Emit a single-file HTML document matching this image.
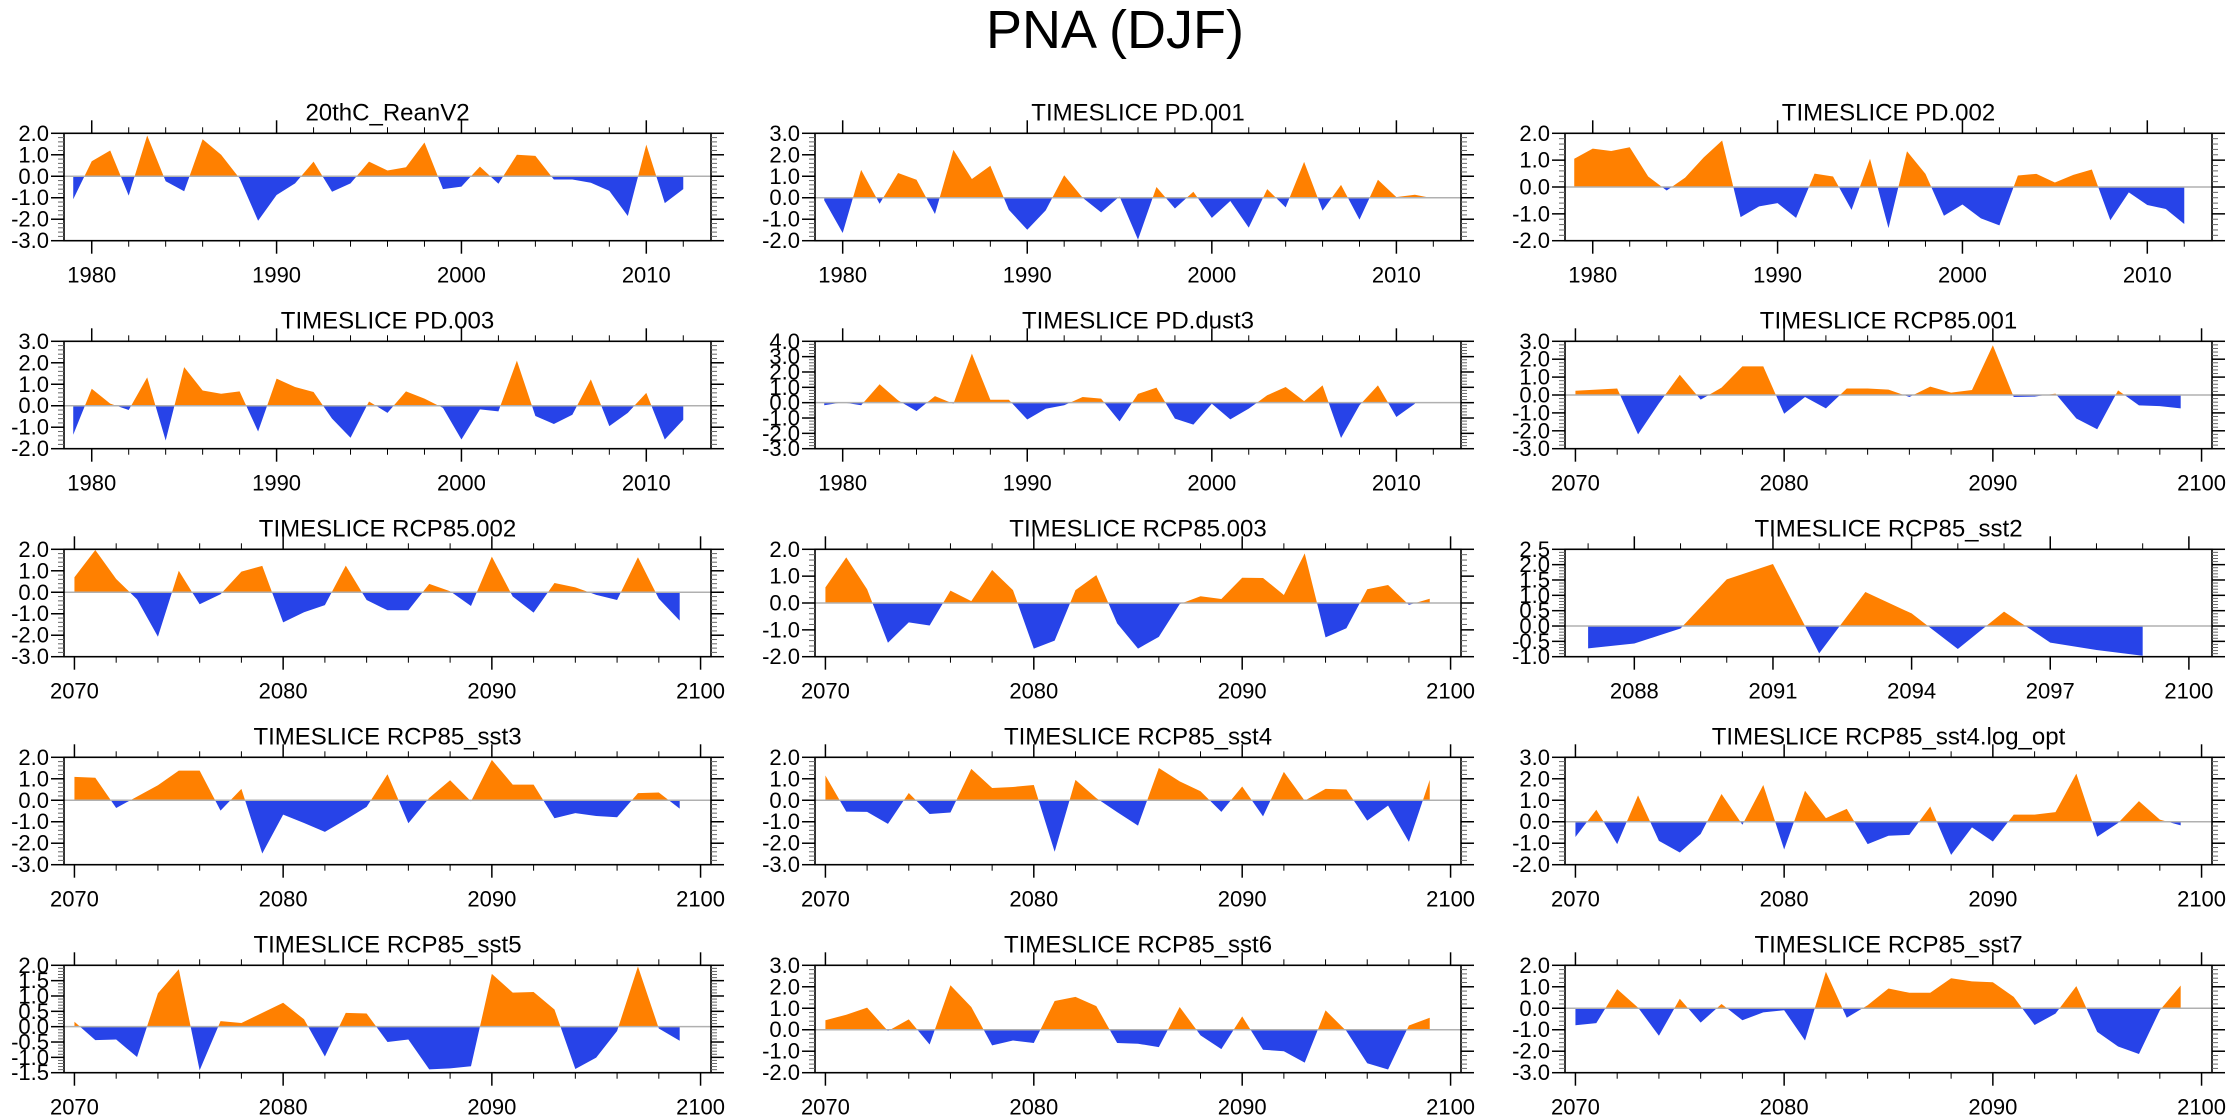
<!DOCTYPE html>
<html>
<head>
<meta charset="utf-8">
<style>
  html,body{margin:0;padding:0;background:#fff;}
  svg{display:block;font-family:"Liberation Sans",Arial,sans-serif;}
</style>
</head>
<body>
<svg id="chart" width="2230" height="1120" viewBox="0 0 2230 1120" xmlns="http://www.w3.org/2000/svg">
  <rect x="0" y="0" width="2230" height="1120" fill="#fff"/>
  <text x="1115" y="48" text-anchor="middle" font-size="54" fill="#000">PNA (DJF)</text>
</svg>
<script>
// ---- data ----
const reanV2 = [-1.07,0.7,1.2,-0.9,1.9,-0.23,-0.7,1.72,1.0,-0.1,-2.07,-0.87,-0.33,0.68,-0.72,-0.33,0.68,0.27,0.42,1.57,-0.6,-0.48,0.45,-0.35,1.0,0.95,-0.15,-0.15,-0.3,-0.68,-1.85,1.47,-1.25,-0.6];
const pd001 = [-0.12,-1.64,1.3,-0.28,1.15,0.84,-0.76,2.23,0.87,1.49,-0.56,-1.49,-0.59,1.05,0.0,-0.68,0.06,-1.95,0.5,-0.5,0.28,-0.94,-0.15,-1.39,0.4,-0.45,1.67,-0.6,0.6,-1.02,0.84,0.03,0.14,-0.03];
const pd002 = [1.05,1.43,1.34,1.48,0.39,-0.13,0.35,1.1,1.73,-1.12,-0.72,-0.6,-1.15,0.5,0.39,-0.85,1.05,-1.53,1.33,0.49,-1.07,-0.65,-1.17,-1.43,0.43,0.49,0.17,0.45,0.65,-1.24,-0.2,-0.67,-0.82,-1.38];
const pd003 = [-1.35,0.79,0.1,-0.2,1.32,-1.62,1.8,0.71,0.56,0.67,-1.2,1.26,0.87,0.64,-0.6,-1.49,0.2,-0.33,0.67,0.33,-0.1,-1.57,-0.17,-0.26,2.1,-0.48,-0.85,-0.42,1.23,-0.95,-0.33,0.6,-1.57,-0.65];
const pdDust3 = [-0.17,0.02,-0.17,1.2,0.15,-0.55,0.43,-0.07,3.2,0.19,0.19,-1.1,-0.4,-0.17,0.37,0.26,-1.22,0.57,0.98,-1.04,-1.43,-0.07,-1.09,-0.39,0.48,1.02,0.1,1.13,-2.3,-0.17,1.13,-0.93,-0.07];
const rcp001 = [0.24,0.3,0.36,-2.2,-0.47,1.13,-0.26,0.41,1.6,1.6,-1.05,-0.11,-0.75,0.36,0.36,0.3,-0.11,0.47,0.13,0.28,2.78,-0.11,-0.09,0.08,-1.31,-1.91,0.26,-0.58,-0.62,-0.75];
const rcp002 = [0.7,1.97,0.62,-0.33,-2.07,1.0,-0.56,-0.09,0.96,1.23,-1.4,-0.93,-0.6,1.24,-0.36,-0.84,-0.84,0.39,0.05,-0.64,1.66,-0.2,-0.95,0.43,0.23,-0.12,-0.36,1.63,-0.3,-1.32];
const rcp003 = [0.58,1.7,0.51,-1.48,-0.72,-0.84,0.46,0.07,1.23,0.48,-1.7,-1.4,0.48,1.04,-0.76,-1.7,-1.26,-0.04,0.25,0.15,0.94,0.93,0.3,1.85,-1.28,-0.94,0.51,0.67,-0.07,0.16];
const sst2 = [-0.73,-0.57,-0.08,1.52,2.02,-0.89,1.11,0.41,-0.75,0.47,-0.54,-0.78,-0.97];
const sst3 = [1.09,1.05,-0.36,0.17,0.7,1.38,1.38,-0.48,0.53,-2.48,-0.67,-1.06,-1.47,-0.9,-0.31,1.21,-1.07,0.11,0.93,-0.05,1.88,0.73,0.73,-0.84,-0.6,-0.73,-0.79,0.33,0.36,-0.39];
const sst4 = [1.15,-0.53,-0.54,-1.1,0.34,-0.64,-0.57,1.46,0.57,0.62,0.71,-2.4,0.95,0.1,-0.55,-1.18,1.5,0.88,0.42,-0.54,0.64,-0.75,1.32,-0.02,0.53,0.5,-0.95,-0.25,-1.94,0.95];
const sst4log = [-0.71,0.56,-1.04,1.23,-0.89,-1.43,-0.57,1.29,-0.14,1.71,-1.29,1.44,0.17,0.6,-1.04,-0.65,-0.61,0.71,-1.54,-0.26,-0.92,0.33,0.33,0.45,2.24,-0.7,-0.06,0.96,0.1,-0.17];
const sst5 = [0.16,-0.44,-0.42,-0.99,1.09,1.87,-1.42,0.18,0.12,0.45,0.78,0.24,-0.97,0.45,0.43,-0.5,-0.42,-1.39,-1.36,-1.29,1.72,1.11,1.13,0.56,-1.38,-1.01,-0.14,1.96,-0.06,-0.46];
const sst6 = [0.44,0.7,1.03,-0.06,0.48,-0.69,2.07,1.06,-0.73,-0.5,-0.62,1.34,1.53,1.1,-0.62,-0.65,-0.81,1.06,-0.26,-0.9,0.62,-0.93,-1.0,-1.53,0.9,-0.06,-1.56,-1.85,0.2,0.56];
const sst7 = [-0.79,-0.69,0.89,0.03,-1.28,0.44,-0.67,0.2,-0.56,-0.19,-0.09,-1.5,1.7,-0.44,0.14,0.92,0.72,0.72,1.4,1.25,1.21,0.53,-0.78,-0.25,1.03,-1.1,-1.78,-2.13,-0.09,1.06];

const panelTitles = ["20thC_ReanV2","TIMESLICE PD.001","TIMESLICE PD.002","TIMESLICE PD.003","TIMESLICE PD.dust3","TIMESLICE RCP85.001","TIMESLICE RCP85.002","TIMESLICE RCP85.003","TIMESLICE RCP85_sst2","TIMESLICE RCP85_sst3","TIMESLICE RCP85_sst4","TIMESLICE RCP85_sst4.log_opt","TIMESLICE RCP85_sst5","TIMESLICE RCP85_sst6","TIMESLICE RCP85_sst7"];
const panelSeries = [reanV2,pd001,pd002,pd003,pdDust3,rcp001,rcp002,rcp003,sst2,sst3,sst4,sst4log,sst5,sst6,sst7];
const startYears = [1979,1979,1979,1979,1979,2070,2070,2070,2087,2070,2070,2070,2070,2070,2070];
const yMins = [-3,-2,-2,-2,-3,-3,-3,-2,-1,-3,-3,-2,-1.5,-2,-3];
const yMaxs = [2,3,2,3,4,3,2,2,2.5,2,2,3,2,3,2];
const yMajorSteps = [1,1,1,1,1,1,1,1,0.5,1,1,1,0.5,1,1];
const pdYearLabels = [1980,1990,2000,2010];
const rcpYearLabels = [2070,2080,2090,2100];
const sst2YearLabels = [2088,2091,2094,2097,2100];

// ---- layout ----
const NS = "http://www.w3.org/2000/svg";
const svg = document.getElementById("chart");
const colBox = [[64,711],[815,1461],[1565,2212]];
const rowTop0 = 133.3, rowPitch = 208, boxH = 107.4;

function mk(tag, attrs, parent){
  const e = document.createElementNS(NS, tag);
  for (const k in attrs) e.setAttribute(k, attrs[k]);
  (parent||svg).appendChild(e);
  return e;
}

panelSeries.forEach((vals, i) => {
  const col = i % 3, row = Math.floor(i / 3);
  const L = colBox[col][0], R = colBox[col][1];
  const T = rowTop0 + row * rowPitch, B = T + boxH;
  const s0 = startYears[i];
  let xmin, xmax, labels, minorStep;
  if (s0 === 1979) { xmin = 1978.5; xmax = 2013.5; labels = pdYearLabels; minorStep = 2; }
  else if (s0 === 2087) { xmin = 2086.5; xmax = 2100.5; labels = sst2YearLabels; minorStep = 1; }
  else { xmin = 2069.5; xmax = 2100.5; labels = rcpYearLabels; minorStep = 2; }
  const ymin = yMins[i], ymax = yMaxs[i], ystep = yMajorSteps[i];
  const xs = yr => L + (yr - xmin) / (xmax - xmin) * (R - L);
  const ys = v => B - (v - ymin) / (ymax - ymin) * (B - T);

  const g = mk("g", {});
  
  

  const defs = mk("defs", {}, g);
  const cpPos = mk("clipPath", {id: "pos" + i}, defs);
  mk("rect", {x: L, y: T, width: R - L, height: ys(0) - T}, cpPos);
  const cpNeg = mk("clipPath", {id: "neg" + i}, defs);
  mk("rect", {x: L, y: ys(0), width: R - L, height: B - ys(0)}, cpNeg);

  const n = vals.length;
  let d = "M" + xs(s0).toFixed(2) + "," + ys(0).toFixed(2);
  vals.forEach((v, k) => { d += " L" + xs(s0 + k).toFixed(2) + "," + ys(v).toFixed(2); });
  d += " L" + xs(s0 + n - 1).toFixed(2) + "," + ys(0).toFixed(2) + " Z";
  const pos = mk("path", {d: d, fill: "#ff8000", "clip-path": "url(#pos" + i + ")"}, g);
  
  
  const neg = mk("path", {d: d, fill: "#2743e8", "clip-path": "url(#neg" + i + ")"}, g);
  
  

  const zl = mk("line", {x1: L, x2: R, y1: ys(0), y2: ys(0), stroke: "#b0b0b0", "stroke-width": 1.5}, g);
  
  

  const box = mk("rect", {x: L, y: T, width: R - L, height: B - T, fill: "none", stroke: "#000", "stroke-width": 1.6}, g);
  
  

  const firstMinor = Math.ceil(xmin / minorStep) * minorStep;
  for (let yr = firstMinor; yr <= xmax; yr += minorStep) {
    const major = labels.indexOf(yr) >= 0;
    const len = major ? 13 : 6;
    const x = xs(yr);
    mk("line", {x1: x, x2: x, y1: T, y2: T - len, stroke: "#000", "stroke-width": major ? 1.5 : 1}, g);
    mk("line", {x1: x, x2: x, y1: B, y2: B + len, stroke: "#000", "stroke-width": major ? 1.5 : 1}, g);
  }
  labels.forEach(yr => {
    const t = mk("text", {x: xs(yr), y: B + 42, "text-anchor": "middle", "font-size": 22, fill: "#000"}, g);
    t.textContent = yr;
    
    
  });

  const minorY = ystep / 5;
  const nMinor = Math.round((ymax - ymin) / minorY);
  for (let k = 0; k <= nMinor; k++) {
    const v = ymin + k * minorY;
    const major = k % 5 === 0;
    const len = major ? 13 : 6;
    const y = ys(v);
    mk("line", {x1: L, x2: L - len, y1: y, y2: y, stroke: major ? "#000" : "#666", "stroke-width": major ? 1.5 : 1}, g);
    mk("line", {x1: R, x2: R + len, y1: y, y2: y, stroke: major ? "#000" : "#666", "stroke-width": major ? 1.5 : 1}, g);
    if (major) {
      const t = mk("text", {x: L - 15, y: y + 7.5, "text-anchor": "end", "font-size": 22, fill: "#000"}, g);
      t.textContent = v.toFixed(1);
      
      
    }
  }

  const tt = mk("text", {x: (L + R) / 2, y: T - 13, "text-anchor": "middle", "font-size": 24, fill: "#000"}, g);
  tt.textContent = panelTitles[i];
  
  
});
</script>
</body>
</html>
